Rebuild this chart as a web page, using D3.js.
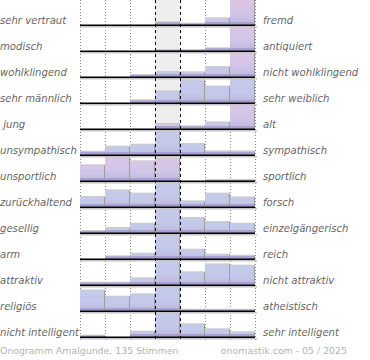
<!DOCTYPE html>
<html>
<head>
<meta charset="utf-8">
<script src="https://cdn.jsdelivr.net/npm/d3@7"></script>
<style>
  html, body { margin: 0; padding: 0; background: #fff; }
  svg { display: block; }
</style>
</head>
<body>
<svg id="chart" width="370" height="360"></svg>
<script>
// ---- data ----
const leftLabels = ["sehr vertraut", "modisch", "wohlklingend", "sehr männlich", " jung", "unsympathisch",
  "unsportlich", "zurückhaltend", "gesellig", "arm", "attraktiv", "religiös", "nicht intelligent"];
const rightLabels = ["fremd", "antiquiert", "nicht wohlklingend", "sehr weiblich", "alt", "sympathisch",
  "sportlich", "forsch", "einzelgängerisch", "reich", "nicht attraktiv", "atheistisch", "sehr intelligent"];
const steps = [1, 2, 3, 4, 5, 6, 7];
// share of votes per step (percent, bars are capped at 25)
const values = [
  [0, 0, 0, 2.7, 1.3, 6.7, 88],
  [0, 0, 0, 1, 1, 2.7, 94],
  [0, 0, 2, 5, 4.7, 10, 78],
  [0, 0, 2.6, 11.6, 22.5, 16.5, 23],
  [0, 0, 0, 5, 2.6, 6.6, 85],
  [3.3, 8.3, 10.3, 60, 11, 3.6, 3.6],
  [15.7, 40, 19.7, 22, 0, 1, 1],
  [10, 16.6, 13.3, 40, 5.6, 13.3, 9.6],
  [2, 5, 9.3, 45, 15, 11, 9.3],
  [0, 2.6, 5.3, 70, 9.3, 4.3, 3.3],
  [2.3, 2.3, 6.7, 35, 12.7, 20.7, 19.3],
  [20.5, 14.3, 16.7, 45, 1.3, 1.3, 1.3],
  [1.3, 0, 5.3, 60, 12.7, 7.7, 4.7]
];
// pink tone of each bar (0 = blue, 1 = pink)
const tones = [
  [0, 0, 0, 0.3, 0.3, 0.3, 1],
  [0, 0, 0, 0, 0, 0, 1],
  [0, 0, 0, 0, 0, 0.2, 1],
  [0, 0, 0, 0, 0, 0, 0],
  [0, 0, 0, 0.7, 0.3, 0.2, 1],
  [0, 0, 0, 0, 0, 0, 0],
  [0.7, 1, 0.8, 1, 0, 0, 0],
  [0, 0, 0, 0, 0, 0, 0],
  [0, 0, 0, 0, 0, 0, 0],
  [0, 0, 0, 0, 0, 0, 0],
  [0, 0, 0, 0, 0, 0, 0],
  [0, 0, 0, 0, 0, 0, 0],
  [0, 0, 0, 0, 0, 0, 0]
];
const footerLeft = "Onogramm Amalgunde, 135 Stimmen";
const footerRight = "onomastik.com - 05 / 2025";

// ---- layout ----
const svg = d3.select("#chart");
const x = d3.scaleBand().domain(steps).range([80, 255]).paddingInner(0).paddingOuter(0);
const rowIdx = d3.range(leftLabels.length);
const yBase = d3.scalePoint().domain(rowIdx).range([25, 337]);
const h = d3.scaleLinear().domain([0, 25]).range([0, 25]).clamp(true);
const gridTop = 0, gridBottom = 340;

const defs = svg.append("defs");
const blueTop = "#c5cae9", pinkTop = "#dec5e5";
const mix = d3.interpolateRgb(blueTop, pinkTop);
const tonesUsed = Array.from(new Set(tones.flat())).sort();
tonesUsed.forEach(t => {
  const g = defs.append("linearGradient").attr("id", "g" + String(t).replace(".", "_"))
    .attr("x1", 0).attr("y1", 0).attr("x2", 0).attr("y2", 1);
  g.append("stop").attr("offset", "0%").attr("stop-color", mix(t));
  g.append("stop").attr("offset", "55%").attr("stop-color", d3.interpolateRgb(mix(t), "#c3c5e8")(0.5));
  g.append("stop").attr("offset", "100%").attr("stop-color", "#bdb8de");
});

// center column background
svg.append("rect")
  .attr("x", x(4)).attr("y", gridTop)
  .attr("width", x.bandwidth()).attr("height", gridBottom - gridTop)
  .attr("fill", "#eeeeef");

// dotted grid lines
const dotted = [1, 2, 3].map(s => x(s)).concat([6, 7].map(s => x(s)), [x(7) + x.bandwidth()]);
svg.append("g").selectAll("line").data(dotted).join("line")
  .attr("x1", d => d + 0.5).attr("x2", d => d + 0.5)
  .attr("y1", gridTop).attr("y2", gridBottom)
  .attr("stroke", "#8a8a8a").attr("stroke-width", 1).attr("stroke-dasharray", "1,2");

// bars
const barsG = svg.append("g");
rowIdx.forEach(r => {
  const base = yBase(r);
  const data = steps.map((s, i) => ({ s, v: values[r][i], t: tones[r][i] })).filter(d => d.v > 0);
  const g = barsG.append("g");
  // top shadow
  g.selectAll("rect.sh").data(data).join("rect").attr("class", "sh")
    .attr("x", d => x(d.s)).attr("y", d => base - h(d.v) - 1)
    .attr("width", x.bandwidth()).attr("height", d => h(d.v) + 1)
    .attr("fill", "#cbcbcb");
  g.selectAll("rect.bar").data(data).join("rect").attr("class", "bar")
    .attr("x", d => x(d.s)).attr("y", d => base - h(d.v))
    .attr("width", x.bandwidth()).attr("height", d => h(d.v))
    .attr("fill", d => "url(#g" + String(d.t).replace(".", "_") + ")");
  // bottom darker band
  g.selectAll("rect.band").data(data).join("rect").attr("class", "band")
    .attr("x", d => x(d.s)).attr("y", d => base - Math.min(h(d.v), 3))
    .attr("width", x.bandwidth()).attr("height", d => Math.min(h(d.v), 3))
    .attr("fill", "#a398cc").attr("opacity", 0.8);
  // side edges
  g.selectAll("line.edge").data(data).join("line").attr("class", "edge")
    .attr("x1", d => x(d.s) + x.bandwidth() - 0.5).attr("x2", d => x(d.s) + x.bandwidth() - 0.5)
    .attr("y1", d => base - h(d.v)).attr("y2", base)
    .attr("stroke", "#9c9c9c").attr("stroke-width", 1);
});

// baselines with shadow
svg.append("g").selectAll("rect").data(rowIdx).join("rect")
  .attr("x", x(1)).attr("y", r => yBase(r) + 1)
  .attr("width", x(7) + x.bandwidth() - x(1) + 2).attr("height", 1.5)
  .attr("fill", "#c4c4c4");
svg.append("g").selectAll("line").data(rowIdx).join("line")
  .attr("x1", x(1)).attr("x2", x(7) + x.bandwidth())
  .attr("y1", r => yBase(r) + 0.25).attr("y2", r => yBase(r) + 0.25)
  .attr("stroke", "#000").attr("stroke-width", 1.4);

// dashed center lines
svg.append("g").selectAll("line").data([x(4), x(5)]).join("line")
  .attr("x1", d => d + 0.5).attr("x2", d => d + 0.5)
  .attr("y1", gridTop).attr("y2", gridBottom)
  .attr("stroke", "#000").attr("stroke-width", 1).attr("stroke-dasharray", "3,3");

// labels
const labelFont = "DejaVu Sans, sans-serif";
svg.append("g").selectAll("text").data(rowIdx).join("text")
  .attr("x", 0).attr("y", r => yBase(r) - 1)
  .attr("font-family", labelFont).attr("font-size", 10.1).attr("font-style", "italic")
  .attr("fill", "#666666").style("white-space", "pre")
  .text(r => leftLabels[r]);
svg.append("g").selectAll("text").data(rowIdx).join("text")
  .attr("x", 263).attr("y", r => yBase(r) - 1)
  .attr("font-family", labelFont).attr("font-size", 10.1).attr("font-style", "italic")
  .attr("fill", "#666666")
  .text(r => rightLabels[r]);

// footer
svg.append("text").attr("x", 0).attr("y", 354)
  .attr("font-family", labelFont).attr("font-size", 9.4).attr("fill", "#b3b3b3")
  .text(footerLeft);
svg.append("text").attr("x", 347).attr("y", 354).attr("text-anchor", "end")
  .attr("font-family", labelFont).attr("font-size", 9.4).attr("fill", "#b3b3b3")
  .text(footerRight);
</script>
</body>
</html>
